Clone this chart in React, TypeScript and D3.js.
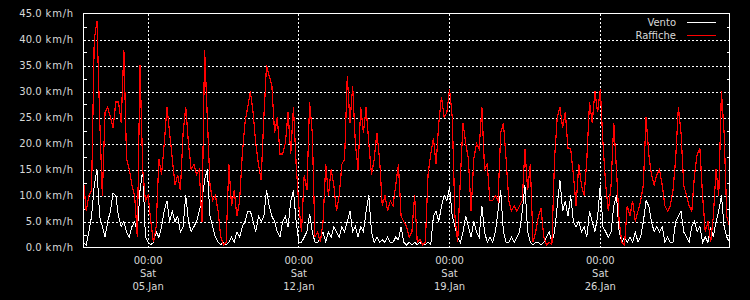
import React from "react";
import * as d3 from "d3";

const START = Date.UTC(2019, 0, 2, 0, 0);
const END = Date.UTC(2019, 1, 1, 0, 0);
const STEP_HOURS = 3;

const vento: number[] = [
  1, 0.5, 3, 6, 12, 15, 6, 4, 2, 5, 7, 10.5, 10, 6, 4, 5, 3, 2, 4, 5, 3, 11, 15, 2, 1,
  0.5, 1, 3, 2, 4, 7, 9, 5, 7, 5, 6, 3, 4, 10, 5, 3, 4, 5, 7, 9, 13, 15, 6, 4, 2,
  1, 0.5, 1, 0.5, 1, 2, 1, 3, 2, 4, 5, 7, 7, 5, 3, 6, 5, 6, 11, 8, 6, 5, 3, 2,
  5, 6, 4, 9, 11, 5, 1, 1, 2, 3, 6.5, 3, 1, 1, 2, 3, 1, 3, 2, 4, 3, 2, 4, 3, 5,
  7, 3, 4, 2, 4, 3, 7, 10, 3, 1, 2, 1, 1.5, 1, 2, 1, 1, 2, 1.5, 4, 1, 0.5, 1, 0.5, 1,
  0.5, 1, 0.5, 0.5, 1, 0.5, 6, 7, 5, 8, 10, 9, 11.5, 6, 4, 2, 1, 3, 6, 4, 2, 5, 3, 2,
  8, 3, 1, 2, 1, 3, 7, 11, 3, 1, 1, 2, 1, 2, 3, 7, 12, 3, 1, 0.5, 1, 1, 0.5, 1, 2,
  3, 1, 3, 8, 13, 7, 9, 6, 10, 5, 4, 5, 3, 4, 2, 7, 5, 3, 6, 12, 4, 3, 2, 3, 8,
  10, 3, 1, 2, 1, 2, 1, 3, 1, 2, 5, 9, 8, 5, 3, 4, 3, 4, 1, 2, 1, 1, 5, 6, 7,
  3, 2, 1, 4, 5, 3, 4, 1, 2, 1, 4, 2, 5, 7, 10, 4, 2, 1,
];

const raffiche: number[] = [
  13, 7, 10, 11, 40, 43.5, 25, 10, 26, 27, 25, 23, 28, 28, 24, 38, 17, 15, 12, 10,
  2, 35, 15, 9, 10, 5, 1, 4, 17, 14, 20, 27, 22, 17, 12, 14, 11, 22, 27, 20,
  15, 16, 14, 15, 5, 38, 25, 12, 9, 10, 7, 2, 0.5, 1, 16, 8, 11, 6, 9, 18,
  24, 27, 30, 26, 20, 16, 13, 25, 35, 33, 31, 22, 25, 18,
  18, 20, 26, 18, 27, 16, 8, 3, 14, 11, 28, 22, 2, 3, 1, 5, 16, 10, 15, 12,
  7, 10, 16, 17, 33, 24, 31, 20, 15, 27, 22, 27, 20, 14, 17, 22, 17, 8, 10, 7,
  9, 8, 12, 16, 6, 5, 4, 2, 3, 10, 1, 1.5, 0.5, 1, 14, 18, 21, 16, 24, 29,
  25, 26, 30.5, 25, 6, 1, 13, 24, 20, 17, 7, 17, 20, 19,
  27, 15, 16, 9, 9, 10, 9, 22, 24, 17, 9, 7, 8, 7, 8, 9, 19, 11, 16, 1,
  3, 6, 7.5, 2, 0.5, 1, 0.5, 17, 25, 27, 23, 26, 19, 19, 14, 8, 16, 12, 10, 17,
  28, 24, 30, 26, 30.5, 20, 12, 7, 12, 24, 15, 5, 1, 0.5, 8, 6, 9, 5, 7, 9,
  12, 25, 18, 14, 12, 14, 15, 12, 8, 7, 8, 11, 17, 27, 22, 12, 10, 8, 7, 14,
  18, 19, 10, 3, 5, 1, 6, 15, 10, 30, 22, 6, 4,
];

const yTicks = [0, 5, 10, 15, 20, 25, 30, 35, 40, 45];
const yMinorTicks = [2.5, 7.5, 12.5, 17.5, 22.5, 27.5, 32.5, 37.5, 42.5];
const xTicks = [
  Date.UTC(2019, 0, 5),
  Date.UTC(2019, 0, 12),
  Date.UTC(2019, 0, 19),
  Date.UTC(2019, 0, 26),
];
const legendItems = [
  { label: "Vento", color: "#ffffff" },
  { label: "Raffiche", color: "#ff0000" },
];

const W = 750;
const H = 300;
const L = 83.5;
const R = 729.5;
const T = 13.5;
const B = 247.5;
const FONT = "'DejaVu Sans', sans-serif";
const TXT = "#d8d8d8";

export default function App() {
  const x = d3.scaleUtc().domain([new Date(START), new Date(END)]).range([L, R]);
  const y = d3.scaleLinear().domain([0, 45]).range([B, T]);
  const t = (i: number) => new Date(START + i * STEP_HOURS * 3600 * 1000);
  const line = d3
    .line<number>()
    .x((_, i) => x(t(i)))
    .y((d) => y(d))
    .curve(d3.curveLinear);
  const fH = d3.utcFormat("%H:%M");
  const fD = d3.utcFormat("%a");
  const fDate = d3.utcFormat("%d.%b");

  return (
    <svg
      width={W}
      height={H}
      style={{ position: "absolute", left: 0, top: 0, background: "#000" }}
      fontFamily={FONT}
      fontSize={10}
    >
      <rect x={0} y={0} width={W} height={H} fill="#000" />
      {yTicks.slice(1, -1).map((v) => (
        <line
          key={"gy" + v}
          x1={L}
          x2={R}
          y1={Math.round(y(v)) + 0.5}
          y2={Math.round(y(v)) + 0.5}
          stroke="#fff"
          strokeDasharray="2,2"
          shapeRendering="crispEdges"
        />
      ))}
      {xTicks.map((d) => (
        <line
          key={"gx" + d}
          x1={Math.floor(x(new Date(d))) + 0.5}
          x2={Math.floor(x(new Date(d))) + 0.5}
          y1={T}
          y2={B}
          stroke="#fff"
          strokeDasharray="2,2"
          shapeRendering="crispEdges"
        />
      ))}
      {yMinorTicks.map((v) => (
        <g key={"m" + v}>
          <line x1={L} x2={L + 3} y1={Math.round(y(v)) + 0.5} y2={Math.round(y(v)) + 0.5} stroke="#fff" shapeRendering="crispEdges" />
          <line x1={R - 3} x2={R} y1={Math.round(y(v)) + 0.5} y2={Math.round(y(v)) + 0.5} stroke="#fff" shapeRendering="crispEdges" />
        </g>
      ))}
      <path d={line(vento) || ""} fill="none" stroke="#ffffff" strokeWidth={1} shapeRendering="crispEdges" />
      <path d={line(raffiche) || ""} fill="none" stroke="#ff0000" strokeWidth={1.2} shapeRendering="crispEdges" />
      <rect x={L} y={T} width={R - L} height={B - T} fill="none" stroke="#fff" shapeRendering="crispEdges" />
      {yTicks.map((v) => (
        <text key={"yl" + v} x={74} y={y(v)} dy="0.35em" textAnchor="end" fill={TXT}>
          {d3.format(".1f")(v)}
          <tspan letterSpacing={0.8}>{" km/h"}</tspan>
        </text>
      ))}
      {xTicks.map((d) => {
        const dt = new Date(d);
        const cx = x(dt);
        return (
          <g key={"xl" + d} textAnchor="middle" fill={TXT}>
            <text x={cx} y={264}>{fH(dt)}</text>
            <text x={cx} y={277}>{fD(dt)}</text>
            <text x={cx} y={290}>{fDate(dt)}</text>
          </g>
        );
      })}
      {legendItems.map((it, k) => (
        <g key={it.label}>
          <text x={676} y={22 + k * 13} dy="0.35em" textAnchor="end" fill={TXT}>
            {it.label}
          </text>
          <line x1={687} x2={716} y1={22.5 + k * 13} y2={22.5 + k * 13} stroke={it.color} shapeRendering="crispEdges" />
        </g>
      ))}
    </svg>
  );
}
